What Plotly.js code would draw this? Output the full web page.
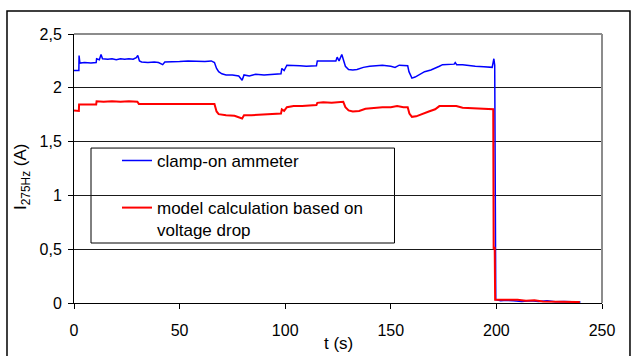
<!DOCTYPE html>
<html>
<head>
<meta charset="utf-8">
<script src="https://cdn.plot.ly/plotly-3.0.1.min.js"></script>
<style>html,body{margin:0;padding:0;background:#fff;}#chart{width:631px;height:356px;}</style>
</head>
<body>
<div id="chart"></div>
<script>
// time axis (s) and current (A) for the clamp-on ammeter
var tAmmeter = [0, 2.3, 2.4, 2.8, 5, 8, 10.5, 10.7, 12, 12.8, 13.5, 16, 18, 20, 22, 24, 26, 28, 29.5, 30.2, 31, 32, 35, 38, 40, 42, 43, 46, 50, 54, 58, 62, 65, 66.5, 67.5, 68.5, 70, 72, 75, 78, 79.6, 80.5, 83, 86, 90, 94, 98, 98.4, 99.5, 100.8, 103, 107, 110, 113, 114.8, 115.2, 118, 121, 124, 124.6, 125.5, 126.8, 127.6, 128.5, 130, 132, 134, 137, 140, 143, 146, 150, 152, 154, 158, 158.6, 160, 161.5, 164, 166, 169, 171, 173, 174.5, 177, 180, 180.5, 181.2, 184, 187, 190, 194, 198, 198.8, 199.2, 199.5, 199.7, 202, 205, 208, 212, 216, 220, 224, 228, 232, 236, 239.8];
var iAmmeter = [2.16, 2.16, 2.30, 2.23, 2.235, 2.23, 2.235, 2.27, 2.26, 2.31, 2.27, 2.265, 2.27, 2.26, 2.27, 2.265, 2.27, 2.265, 2.28, 2.30, 2.25, 2.24, 2.235, 2.24, 2.235, 2.215, 2.24, 2.245, 2.245, 2.25, 2.245, 2.245, 2.25, 2.235, 2.18, 2.15, 2.13, 2.12, 2.12, 2.11, 2.07, 2.12, 2.11, 2.125, 2.12, 2.125, 2.13, 2.18, 2.16, 2.21, 2.21, 2.205, 2.20, 2.205, 2.205, 2.25, 2.25, 2.245, 2.25, 2.285, 2.25, 2.31, 2.26, 2.20, 2.17, 2.165, 2.17, 2.19, 2.20, 2.205, 2.21, 2.20, 2.19, 2.21, 2.205, 2.15, 2.09, 2.10, 2.13, 2.15, 2.165, 2.18, 2.20, 2.215, 2.215, 2.22, 2.235, 2.215, 2.215, 2.205, 2.20, 2.195, 2.19, 2.27, 2.21, 0.9, 0.03, 0.02, 0.025, 0.02, 0.015, 0.02, 0.015, 0.02, 0.012, 0.015, 0.012, 0.01];

// model calculation based on voltage drop
var tModel = [0, 2.3, 2.4, 5, 8, 10.5, 10.7, 14, 18, 22, 26, 30, 30.7, 34, 38, 42, 46, 50, 54, 58, 62, 66.5, 67.5, 68.5, 72, 76, 79.6, 80.5, 84, 88, 92, 96, 98, 98.4, 99.5, 100.8, 104, 108, 112, 114.8, 115.2, 118, 122, 125, 127.5, 128.5, 130, 132, 135, 138, 142, 146, 150, 153, 156, 158, 158.8, 160, 162, 165, 168, 171, 173, 177, 181, 184, 188, 192, 196, 198.5, 198.7, 199.2, 199.4, 202, 206, 210, 214, 218, 222, 226, 230, 234, 238, 239.5];
var iModel = [1.79, 1.785, 1.845, 1.845, 1.84, 1.845, 1.875, 1.87, 1.875, 1.87, 1.875, 1.87, 1.85, 1.85, 1.845, 1.85, 1.845, 1.85, 1.85, 1.845, 1.85, 1.85, 1.78, 1.755, 1.745, 1.74, 1.715, 1.745, 1.745, 1.75, 1.75, 1.755, 1.76, 1.80, 1.785, 1.82, 1.83, 1.83, 1.835, 1.84, 1.86, 1.865, 1.86, 1.865, 1.87, 1.82, 1.79, 1.78, 1.785, 1.805, 1.815, 1.82, 1.82, 1.83, 1.82, 1.82, 1.76, 1.73, 1.735, 1.76, 1.78, 1.80, 1.83, 1.83, 1.83, 1.815, 1.81, 1.81, 1.805, 1.80, 0.5, 0.52, 0.03, 0.03, 0.025, 0.03, 0.02, 0.025, 0.015, 0.012, 0.01, 0.008, 0.01, 0.01];

var seriesNames = ['clamp-on ammeter', 'model calculation based on<br>voltage drop'];
var yTicks = [0, 0.5, 1, 1.5, 2, 2.5];
var xTicks = [0, 50, 100, 150, 200, 250];

var FONT = 'Arial, "Liberation Sans", sans-serif';

var traces = [
  {x: tAmmeter, y: iAmmeter, type: 'scatter', mode: 'lines', name: seriesNames[0], legendgroup: 'a',
   line: {color: '#0000ff', width: 1.5}},
  {x: tModel, y: iModel, type: 'scatter', mode: 'lines', name: seriesNames[1], legendgroup: 'b',
   line: {color: '#ff0000', width: 2}}
];

var layout = {
  width: 631, height: 356,
  margin: {l: 74, r: 29, t: 34, b: 53, pad: 0},
  paper_bgcolor: '#ffffff', plot_bgcolor: '#ffffff',
  separators: ',.',
  font: {family: FONT, color: '#000', size: 16},
  showlegend: true,
  legend: {x: 0.0814, y: 0.595, xanchor: 'left', yanchor: 'top', bgcolor: 'rgba(0,0,0,0)', borderwidth: 0,
           font: {family: FONT, size: 17, color: '#000'}, tracegroupgap: 22, valign: 'top'},
  xaxis: {range: [0, 250], tickvals: xTicks, ticks: 'outside', ticklen: 5, tickcolor: '#000', tickwidth: 1,
          showline: true, linecolor: '#000', linewidth: 1, showgrid: false, zeroline: false,
          tickfont: {family: FONT, size: 16, color: '#000'}, ticklabelstandoff: 8, fixedrange: true},
  yaxis: {range: [0, 2.5], tickvals: yTicks, ticks: 'outside', ticklen: 5, tickcolor: '#000', tickwidth: 1,
          showline: true, linecolor: '#000', linewidth: 1, showgrid: true, gridcolor: '#1a1a1a', gridwidth: 1,
          zeroline: false, tickfont: {family: FONT, size: 16, color: '#000'}, ticklabelstandoff: 3, fixedrange: true},
  annotations: [
    {text: 't (s)', xref: 'paper', yref: 'paper', x: 0.5, y: -0.152, xanchor: 'center', yanchor: 'middle',
     showarrow: false, font: {family: FONT, size: 17, color: '#000'}},
    {text: 'I<sub>275Hz</sub> (A)', xref: 'paper', yref: 'paper', x: -0.0985, y: 0.472, xanchor: 'center', yanchor: 'middle',
     textangle: -90, showarrow: false, font: {family: FONT, size: 17, color: '#000'}}
  ],
  shapes: [
    // outer chart frame
    {type: 'rect', xref: 'paper', yref: 'paper', x0: -0.1269, x1: 1.053, y0: -0.25, y1: 1.0855,
     line: {color: '#000', width: 1.5}, fillcolor: 'rgba(0,0,0,0)', layer: 'below'},
    // plot area top and right border (grey)
    {type: 'line', xref: 'paper', yref: 'paper', x0: 0, x1: 1, y0: 1, y1: 1, line: {color: '#8c8c8c', width: 2}, layer: 'above'},
    {type: 'line', xref: 'paper', yref: 'paper', x0: 1, x1: 1, y0: 0, y1: 1, line: {color: '#8c8c8c', width: 2}, layer: 'above'},
    // legend box
    {type: 'rect', xref: 'paper', yref: 'paper', x0: 0.0322, x1: 0.607, y0: 0.223, y1: 0.576,
     line: {color: '#000', width: 1}, fillcolor: '#ffffff', layer: 'between'}
  ]
};

Plotly.newPlot('chart', traces, layout, {staticPlot: true, displayModeBar: false});
</script>
</body>
</html>
